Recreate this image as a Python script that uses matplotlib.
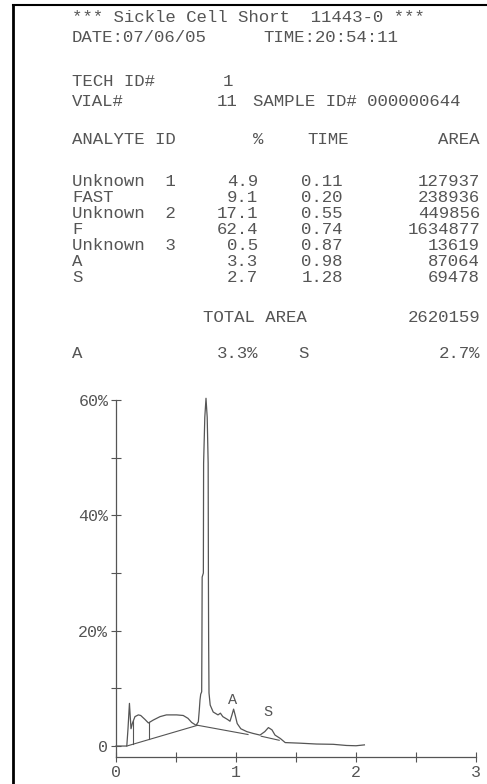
import numpy as np
import matplotlib
matplotlib.use("Agg")
import matplotlib.pyplot as plt
from matplotlib.lines import Line2D

# report values
analytes = ["Unknown  1", "FAST", "Unknown  2", "F", "Unknown  3", "A", "S"]
pct = [4.9, 9.1, 17.1, 62.4, 0.5, 3.3, 2.7]
times = [0.11, 0.20, 0.55, 0.74, 0.87, 0.98, 1.28]
areas = [127937, 238936, 449856, 1634877, 13619, 87064, 69478]
total_area = 2620159
pct_a = 3.3
pct_s = 2.7

# chromatogram trace (min, %)
trace_t = [0.0, 0.09, 0.10, 0.112, 0.125, 0.136, 0.158, 0.186, 0.206, 0.242, 0.27,
           0.31, 0.367, 0.42, 0.505, 0.56, 0.60, 0.63, 0.667, 0.686, 0.694, 0.70,
           0.706, 0.714, 0.716, 0.718, 0.728, 0.73, 0.74, 0.75, 0.76, 0.768, 0.77,
           0.772, 0.775, 0.785, 0.81, 0.85, 0.87, 0.89, 0.93, 0.95, 0.965, 0.98,
           0.995, 1.01, 1.04, 1.09, 1.14, 1.20, 1.24, 1.27, 1.30, 1.325, 1.37,
           1.41, 1.53, 1.67, 1.81, 1.92, 2.0, 2.07]
trace_v = [0.0, 0.0, 3.0, 7.4, 3.0, 3.9, 5.1, 5.4, 5.3, 4.6, 4.0,
           4.5, 5.1, 5.4, 5.4, 5.3, 4.8, 4.1, 3.6, 4.2, 6.2, 8.0,
           9.0, 9.4, 18.0, 29.3, 30.0, 49.0, 57.0, 60.3, 57.0, 49.0, 30.0,
           18.0, 9.2, 7.1, 5.9, 5.4, 5.7, 5.1, 4.6, 4.3, 5.3, 6.4,
           5.2, 3.9, 3.0, 2.5, 2.2, 1.9, 2.5, 3.2, 2.8, 1.9, 1.3,
           0.6, 0.5, 0.35, 0.3, 0.1, 0.05, 0.2]

# integration baselines and drop lines
base_t = [[0.09, 0.68], [0.68, 1.10], [1.21, 1.36]]
base_v = [[0.0, 3.6], [3.6, 2.0], [1.7, 1.0]]
drop_t = [0.145, 0.278]
peak_names = ["A", "S"]
peak_pos = [(0.975, 8.0), (1.27, 5.9)]

W, H = 487, 784
ink = "#555555"
mono = "Liberation Mono"

fig = plt.figure(figsize=(W / 100, H / 100), dpi=100)


def put(x, y, s, ha="left", size=12.5):
    fig.text(x / W, 1 - y / H, s, ha=ha, va="center", family=mono,
             fontsize=size, color=ink)


# header block
put(72, 18, "*** Sickle Cell Short  11443-0 ***")
put(72, 38, "DATE:07/06/05")
put(263, 38, "TIME:20:54:11")
put(72, 82, "TECH ID#")
put(223, 82, "1")
put(72, 102, "VIAL#")
put(217, 102, "11")
put(253, 102, "SAMPLE ID# 000000644")

put(72, 139, "ANALYTE ID")
put(258, 139, "%", ha="center")
put(307, 139, "TIME")
put(480, 139, "AREA", ha="right")

for i, name in enumerate(analytes):
    y = 181 + 16 * i
    put(72, y, name)
    put(258, y, f"{pct[i]:.1f}", ha="right")
    put(343, y, f"{times[i]:.2f}", ha="right")
    put(480, y, f"{areas[i]}", ha="right")

put(203, 317, "TOTAL AREA")
put(480, 317, f"{total_area}", ha="right")

put(72, 353, "A")
put(258, 353, f"{pct_a:.1f}%", ha="right")
put(298, 353, "S")
put(480, 353, f"{pct_s:.1f}%", ha="right")

# page border from the scan
fig.add_artist(Line2D([13 / W, 13 / W], [0, 1 - 5 / H], color="black", lw=2))
fig.add_artist(Line2D([13 / W, 1], [1 - 5 / H, 1 - 5 / H], color="black", lw=1.5))

# chromatogram
ax = fig.add_axes([116 / W, 1 - 757 / H, 360 / W, 357 / H])
ax.plot(trace_t, trace_v, color=ink, lw=0.9, clip_on=False)
for bt, bv in zip(base_t, base_v):
    ax.plot(bt, bv, color=ink, lw=0.8)
for t in drop_t:
    b = np.interp(t, base_t[0], base_v[0])
    ax.plot([t, t], [b, np.interp(t, trace_t, trace_v)], color=ink, lw=0.8)
for name, (px, py) in zip(peak_names, peak_pos):
    ax.text(px, py, name, ha="center", va="center", family=mono,
            fontsize=11, color=ink)

ax.set_xlim(0, 3)
ax.set_ylim(-1.9, 60)
ax.spines[["top", "right"]].set_visible(False)
for s in ["left", "bottom"]:
    ax.spines[s].set_color(ink)
    ax.spines[s].set_linewidth(0.9)
ax.set_yticks([0, 10, 20, 30, 40, 50, 60])
ax.set_yticklabels(["0", "", "20%", "", "40%", "", "60%"])
ax.set_xticks([0, 0.5, 1, 1.5, 2, 2.5, 3])
ax.set_xticklabels(["0", "", "1", "", "2", "", "3"])
ax.tick_params(direction="inout", length=7, width=0.8, color=ink,
               labelcolor=ink, labelsize=12, pad=2)
for lab in ax.get_xticklabels() + ax.get_yticklabels():
    lab.set_family(mono)

fig.savefig("out.png", dpi=100)
